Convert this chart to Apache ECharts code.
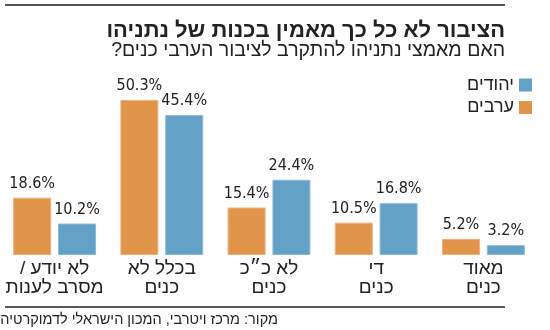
<!DOCTYPE html>
<html dir="rtl">
<head>
<meta charset="utf-8">
<script src="https://cdn.jsdelivr.net/npm/echarts@6/dist/echarts.min.js"></script>
<style>html,body{margin:0;padding:0;background:#fff;}#c{width:550px;height:330px;}</style>
</head>
<body>
<div id="c"></div>
<script>
var categories = ['לא יודע /\nמסרב לענות', 'בכלל לא\nכנים', 'לא כ״כ\nכנים', 'די\nכנים', 'מאוד\nכנים'];
var arabs = [18.6, 50.3, 15.4, 10.5, 5.2];
var jews = [10.2, 45.4, 24.4, 16.8, 3.2];
var seriesNames = ['ערבים', 'יהודים'];
var titleText = 'הציבור לא כל כך מאמין בכנות של נתניהו';
var subtitleText = 'האם מאמצי נתניהו להתקרב לציבור הערבי כנים?';
var sourceText = 'מקור: מרכז ויטרבי, המכון הישראלי לדמוקרטיה';

var HEB = "'Liberation Sans', 'DejaVu Sans', sans-serif";
var NUM = "'DejaVu Sans Condensed', 'DejaVu Sans', sans-serif";
var chart = echarts.init(document.getElementById('c'), null, {renderer: 'canvas'});
var labelOpt = {show: true, position: 'top', distance: 6, color: '#222', fontFamily: NUM, fontSize: 16,
  formatter: function (p) { return p.value.toFixed(1) + '%'; }};
chart.setOption({
  animation: false,
  legend: {
    orient: 'vertical', right: 18, top: 76, padding: 0, align: 'right', itemWidth: 13, itemHeight: 13, itemGap: 4.5,
    data: [seriesNames[1], seriesNames[0]],
    itemStyle: {borderWidth: 0},
    textStyle: {fontFamily: HEB, fontSize: 18, color: '#222'},
    icon: 'rect'
  },
  grid: {left: 1, right: 13, top: 70, bottom: 75, containLabel: false},
  xAxis: {
    type: 'category', data: categories,
    axisLine: {show: false}, axisTick: {show: false},
    axisLabel: {fontFamily: HEB, fontSize: 19, color: '#222', lineHeight: 19, margin: 4, interval: 0}
  },
  yAxis: {type: 'value', min: 0, max: 60, show: false, splitLine: {show: false}},
  series: [
    {name: seriesNames[0], type: 'bar', data: arabs, barWidth: 38, barGap: '18%',
     itemStyle: {color: '#E0954A', borderColor: '#EDB07E', borderWidth: 1}, label: labelOpt},
    {name: seriesNames[1], type: 'bar', data: jews, barWidth: 38, barGap: '18%',
     itemStyle: {color: '#63A1C6', borderColor: '#8CBBD7', borderWidth: 1}, label: labelOpt}
  ],
  graphic: [
    {type: 'line', shape: {x1: 5, y1: 5, x2: 505, y2: 5}, style: {stroke: '#555', lineWidth: 2}},
    {type: 'line', shape: {x1: 5, y1: 307, x2: 505, y2: 307}, style: {stroke: '#222', lineWidth: 1.5}},
    {type: 'text', x: 505, y: 20, style: {text: titleText, font: "bold 22px 'Liberation Sans', sans-serif", fill: '#222', textAlign: 'right', textVerticalAlign: 'top'}},
    {type: 'text', x: 505, y: 41, style: {text: subtitleText, font: "19.5px 'Liberation Sans', sans-serif", fill: '#222', textAlign: 'right', textVerticalAlign: 'top'}},
    {type: 'text', x: 278, y: 312, style: {text: sourceText, font: "14.5px 'Liberation Sans', sans-serif", fill: '#222', textAlign: 'right', textVerticalAlign: 'top'}}
  ]
});
</script>
</body>
</html>
